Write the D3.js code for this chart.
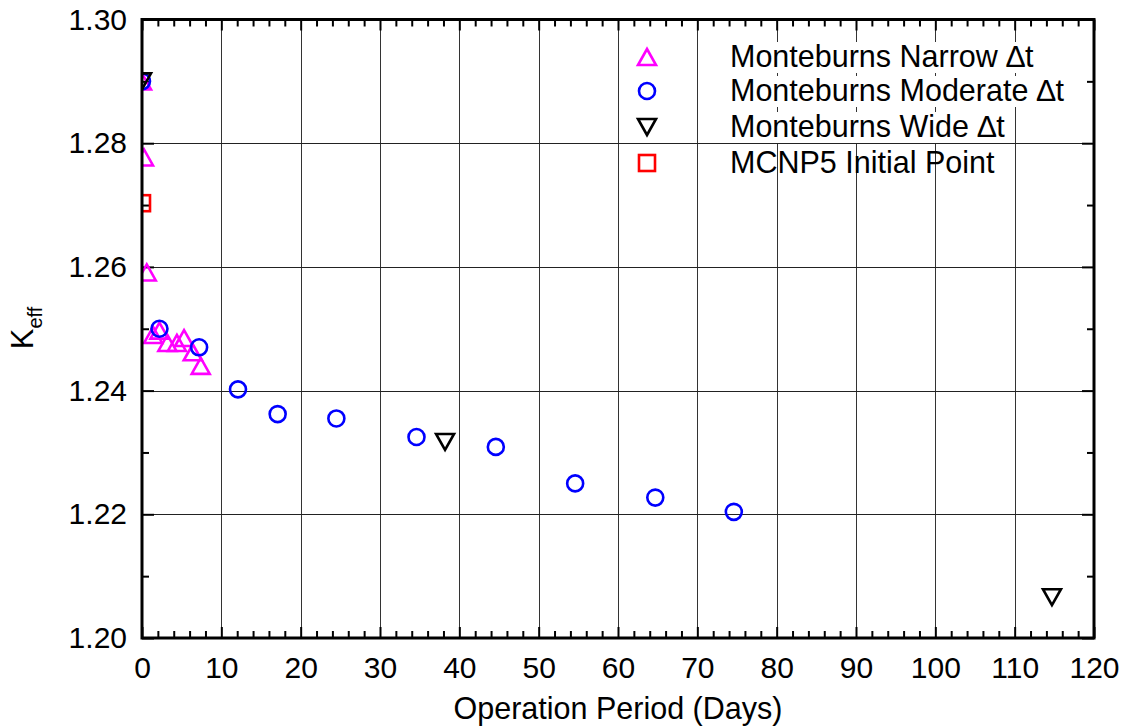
<!DOCTYPE html>
<html><head><meta charset="utf-8">
<script src="https://cdn.jsdelivr.net/npm/d3@7"></script>
<style>body{margin:0;background:#fff}svg{display:block}text{font-family:Arial,"Liberation Sans",sans-serif}</style>
</head><body>
<svg id="c" width="1130" height="726"></svg>
<script>
const narrowX = [0, 0.25, 0.6, 1.4, 2.2, 3.2, 4.4, 5.3, 6.4, 7.4];
const narrowK = [1.2900, 1.2777, 1.2591, 1.2490, 1.2497, 1.2477, 1.2477, 1.2485, 1.2462, 1.2440];
const moderateX = [0, 2.2, 7.2, 12.1, 17.1, 24.5, 34.6, 44.6, 54.6, 64.7, 74.6];
const moderateK = [1.2900, 1.2500, 1.2470, 1.2402, 1.2362, 1.2355, 1.2325, 1.2309, 1.2250, 1.2227, 1.2204];
const wideX = [0, 38.2, 114.7];
const wideK = [1.2900, 1.2317, 1.2066];
const mcnpX = [0];
const mcnpK = [1.2703];
const xTicks = [0,10,20,30,40,50,60,70,80,90,100,110,120];
const yTicks = [1.20,1.22,1.24,1.26,1.28,1.30];
const legendLabels = ["Monteburns Narrow \u2206t","Monteburns Moderate \u2206t","Monteburns Wide \u2206t","MCNP5 Initial Point"];

const L=142,R=1094,T=19.5,B=638;
const svg=d3.select("#c");
const x=d3.scaleLinear().domain([0,120]).range([L,R]);
const y=d3.scaleLinear().domain([1.20,1.30]).range([B,T]);

// grid
const g=svg.append("g");
g.selectAll(".vx").data(xTicks.slice(1,-1)).join("line")
 .attr("x1",d=>Math.round(x(d))+0.5).attr("x2",d=>Math.round(x(d))+0.5).attr("y1",T).attr("y2",B)
 .attr("stroke","#333").attr("stroke-width",1);
g.selectAll(".hy").data(yTicks.slice(1,-1)).join("line")
 .attr("y1",d=>Math.round(y(d))+0.5).attr("y2",d=>Math.round(y(d))+0.5).attr("x1",L).attr("x2",R)
 .attr("stroke","#222").attr("stroke-width",1);

// axes with inward ticks
function tickAxis(axisGen, tr){
  const a=svg.append("g").attr("transform",tr).call(axisGen);
  a.select(".domain").remove();
  a.selectAll("line").attr("stroke","#000").attr("stroke-width",2);
  return a;
}
const xMinor=d3.range(0,121,2).filter(v=>v%10!==0);
const yMinor=[1.21,1.23,1.25,1.27,1.29];
tickAxis(d3.axisBottom(x).tickValues(xTicks).tickSize(-11).tickFormat(d3.format("d")).tickPadding(19),`translate(0,${B})`)
  .selectAll("text").attr("font-size",30).attr("fill","#000");
tickAxis(d3.axisBottom(x).tickValues(xMinor).tickSize(-7).tickFormat(""),`translate(0,${B})`);
tickAxis(d3.axisTop(x).tickValues(xTicks).tickSize(-11).tickFormat(""),`translate(0,${T})`);
tickAxis(d3.axisTop(x).tickValues(xMinor).tickSize(-7).tickFormat(""),`translate(0,${T})`);
tickAxis(d3.axisLeft(y).tickValues(yTicks).tickSize(-12).tickFormat(d3.format(".2f")).tickPadding(15),`translate(${L},0)`)
  .selectAll("text").attr("font-size",30).attr("fill","#000");
tickAxis(d3.axisLeft(y).tickValues(yMinor).tickSize(-7).tickFormat(""),`translate(${L},0)`);
tickAxis(d3.axisRight(y).tickValues(yTicks).tickSize(-12).tickFormat(""),`translate(${R},0)`);
tickAxis(d3.axisRight(y).tickValues(yMinor).tickSize(-7).tickFormat(""),`translate(${R},0)`);

// clip
svg.append("clipPath").attr("id","pc").append("rect").attr("x",L).attr("y",T).attr("width",R-L).attr("height",B-T);
const pg=svg.append("g").attr("clip-path","url(#pc)");

function triPath(up){ const w=9,h=8; return up?`M0,${-h}L${w},${h}L${-w},${h}Z`:`M0,${h}L${w},${-h}L${-w},${-h}Z`; }

const series=[
 {xs:narrowX,ks:narrowK,type:"up",color:"#ff00ff"},
 {xs:moderateX,ks:moderateK,type:"circle",color:"#0000ff"},
 {xs:wideX,ks:wideK,type:"down",color:"#000000"},
 {xs:mcnpX,ks:mcnpK,type:"square",color:"#ff0000"}
];
function drawMarker(sel,type,color){
  if(type==="circle") sel.append("circle").attr("r",8).attr("fill","none").attr("stroke",color).attr("stroke-width",2.6);
  else if(type==="square") sel.append("rect").attr("x",-8).attr("y",-8).attr("width",16).attr("height",16).attr("fill","none").attr("stroke",color).attr("stroke-width",2.6);
  else sel.append("path").attr("d",triPath(type==="up")).attr("fill","none").attr("stroke",color).attr("stroke-width",2.6).attr("stroke-linejoin","miter");
}
series.forEach(s=>{
  s.xs.forEach((xv,i)=>{
    const m=pg.append("g").attr("transform",`translate(${x(xv)},${y(s.ks[i])})`);
    drawMarker(m,s.type,s.color);
  });
});

// frame
svg.append("rect").attr("x",L).attr("y",T).attr("width",R-L).attr("height",B-T).attr("fill","none").attr("stroke","#000").attr("stroke-width",3);

// legend
const legY=[57,91,127,163];
series.forEach((s,i)=>{
  const t=svg.append("text").attr("x",730).attr("y",legY[i]+10).attr("font-size",30.5).attr("fill","#000").text(legendLabels[i]);
  if(i<3){
    const bb=t.node().getBBox();
    svg.insert("rect",()=>t.node()).attr("x",bb.x-2).attr("y",bb.y+3).attr("width",bb.width+4).attr("height",bb.height-3).attr("fill","#fff");
  }
  const m=svg.append("g").attr("transform",`translate(647,${legY[i]})`);
  drawMarker(m,s.type,s.color);
});

// axis titles
svg.append("text").attr("x",(L+R)/2).attr("y",719).attr("text-anchor","middle").attr("font-size",30.5).attr("fill","#000").text("Operation Period (Days)");
const yt=svg.append("text").attr("transform","translate(33,328) rotate(-90)").attr("text-anchor","middle").attr("fill","#000");
yt.append("tspan").attr("font-size",31).text("K");
yt.append("tspan").attr("font-size",20).attr("dy",9).text("eff");
</script>
</body></html>
